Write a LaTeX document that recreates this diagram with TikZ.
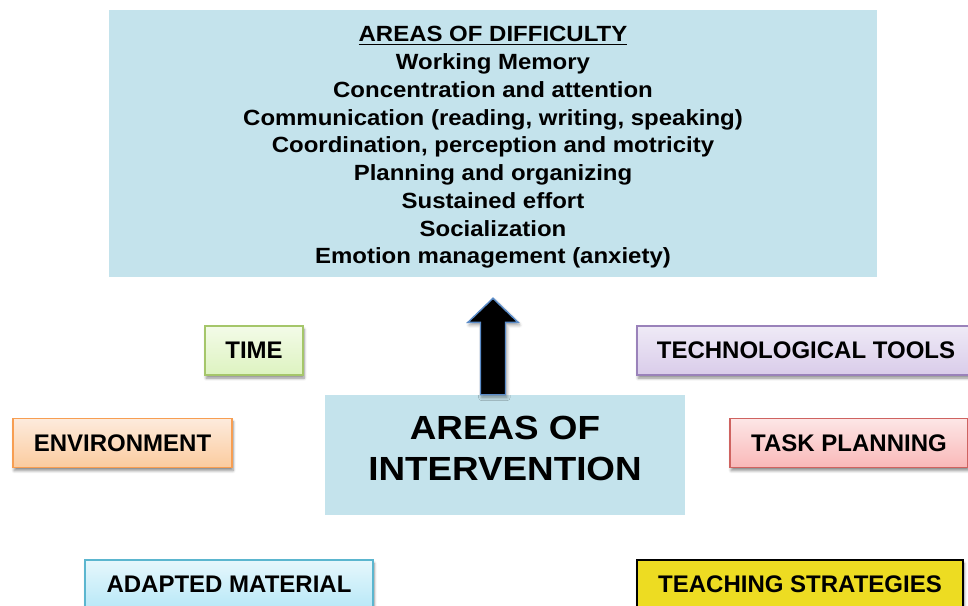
\documentclass[tikz,border=0pt]{standalone}
\usepackage{fontspec}
\setmainfont{Liberation Sans}
\newfontfamily\listfont[FakeStretch=1.09]{Liberation Sans}
\newfontfamily\headfont[FakeStretch=1.1]{Liberation Sans}
\usetikzlibrary{calc,shadows.blur}

\definecolor{panelblue}{HTML}{C4E3EC}
\definecolor{arrowedge}{HTML}{5B8CC8}
\definecolor{greenedge}{HTML}{A5C66A}
\definecolor{greentop}{HTML}{F3FBE8}
\definecolor{greenbot}{HTML}{DDF3C0}
\definecolor{orangeedge}{HTML}{F79E52}
\definecolor{orangetop}{HTML}{FDEBDD}
\definecolor{orangebot}{HTML}{FBCB9E}
\definecolor{cyanedge}{HTML}{5BB6CF}
\definecolor{cyantop}{HTML}{E6F7FC}
\definecolor{cyanbot}{HTML}{B8E8F7}
\definecolor{violetedge}{HTML}{9A82BA}
\definecolor{violettop}{HTML}{EFEAF6}
\definecolor{violetbot}{HTML}{D9CCEA}
\definecolor{rededge}{HTML}{CF6360}
\definecolor{redtop}{HTML}{FDE6E6}
\definecolor{redbot}{HTML}{F9B8B8}
\definecolor{strategyyellow}{HTML}{EDDC22}

\tikzset{
  panel/.style={fill=panelblue, inner sep=0pt},
  paneltext/.style={inner sep=0pt, align=center},
  tag/.style={draw, line width=1.1pt, minimum height=36.75pt, inner sep=0pt,
    font=\bfseries\fontsize{18}{21}\selectfont,
    blur shadow={shadow xshift=0.8pt, shadow yshift=-2.4pt,
      shadow blur steps=6, shadow opacity=45, shadow blur radius=2pt}},
  blockarrow/.style={fill=black, draw=arrowedge, line width=1.1pt, line join=miter,
    blur shadow={shadow xshift=1pt, shadow yshift=-2pt,
      shadow blur steps=6, shadow opacity=40, shadow blur radius=2.5pt}}
}

\begin{document}
\begin{tikzpicture}[x=0.75pt,y=-0.75pt]
\useasboundingbox (0,0) rectangle (968,606);
\clip (0,0) rectangle (968,606);

% list of difficulties
\node[panel, minimum width=576pt, minimum height=200.25pt] (difficulty) at (493,143.5) {};
\node[paneltext, font=\listfont\bfseries\fontsize{16.5}{20.8}\selectfont]
  (difficultytext) at ($(difficulty.center)+(0,4)$)
  {\underline{AREAS OF DIFFICULTY}\\
   Working Memory\\
   Concentration and attention\\
   Communication (reading, writing, speaking)\\
   Coordination, perception and motricity\\
   Planning and organizing\\
   Sustained effort\\
   Socialization\\
   Emotion management (anxiety)};

% central block
\node[panel, minimum width=270pt, minimum height=90pt] (inter) at (505,455) {};
\node[paneltext, font=\headfont\bfseries\fontsize{25.1}{30.75}\selectfont]
  (intertext) at ($(inter.center)+(0,-7)$) {AREAS OF\\INTERVENTION};

% surrounding intervention fields
\node[tag, draw=greenedge, top color=greentop, bottom color=greenbot,
      minimum width=73.5pt] (time) at (254,350.5) {TIME};
\node[tag, draw=orangeedge, top color=orangetop, bottom color=orangebot,
      minimum width=164.25pt] (environment) at (122.5,443) {ENVIRONMENT};
\node[tag, draw=cyanedge, top color=cyantop, bottom color=cyanbot,
      minimum width=216pt] (material) at (229,584.5) {ADAPTED MATERIAL};
\node[tag, draw=violetedge, top color=violettop, bottom color=violetbot,
      minimum width=253.5pt] (tools) at (806,350.5) {TECHNOLOGICAL TOOLS};
\node[tag, draw=rededge, top color=redtop, bottom color=redbot,
      minimum width=178.5pt] (planning) at (849,443) {TASK PLANNING};
\node[tag, draw=black, fill=strategyyellow,
      minimum width=244.5pt] (strategies) at (800,584.5) {TEACHING STRATEGIES};

% block arrow from the central block up to the list
\coordinate (tip) at ($(difficulty.south)+(0,21)$);
\coordinate (base) at (tip |- inter.north);
\draw[blockarrow]
  ($(base)+(-12.5,0)$) -- ($(tip)+(-12.5,24)$) -- ($(tip)+(-25,24)$) -- (tip)
  -- ($(tip)+(25,24)$) -- ($(tip)+(12.5,24)$) -- ($(base)+(12.5,0)$) -- cycle;
\end{tikzpicture}
\end{document}
